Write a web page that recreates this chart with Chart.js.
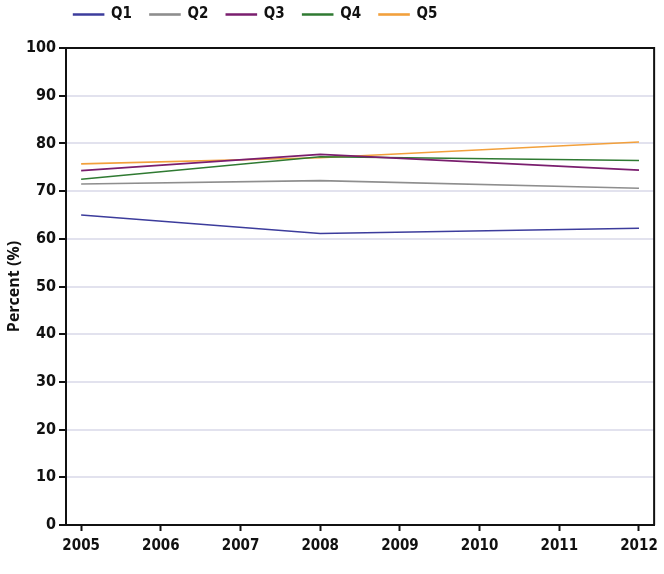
<!DOCTYPE html>
<html>
<head>
<meta charset="utf-8">
<script src="https://cdn.jsdelivr.net/npm/chart.js@4/dist/chart.umd.min.js"></script>
<style>
  html, body { margin: 0; padding: 0; background: #fff; }
  #wrap { width: 664px; height: 574px; }
</style>
</head>
<body>
<div id="wrap"><canvas id="myChart" width="664" height="574"></canvas></div>
<script>
// years where each series has a value, plus the axis tick years
const years = [2005, 2008, 2012];
const tickYears = [2005, 2006, 2007, 2008, 2009, 2010, 2011, 2012];

const q1 = [65.0, 61.1, 62.2];
const q2 = [71.5, 72.2, 70.6];
const q3 = [74.3, 77.7, 74.4];
const q4 = [72.5, 77.2, 76.4];
const q5 = [75.7, 77.0, 80.3];

const seriesNames = ["Q1", "Q2", "Q3", "Q4", "Q5"];
const seriesValues = [q1, q2, q3, q4, q5];
const seriesColors = ["#3c3c9c", "#8e8e8e", "#7a1e6e", "#2f7a32", "#f2a03c"];

const FONT = "'DejaVu Sans Condensed', 'DejaVu Sans', sans-serif";

const datasets = seriesNames.map((name, i) => ({
  label: name,
  data: years.map((yr, j) => ({ x: yr, y: seriesValues[i][j] })),
  borderColor: seriesColors[i],
  backgroundColor: seriesColors[i],
  borderWidth: 1.6,
  pointRadius: 0,
  tension: 0,
}));

// black frame on top and right side of the plot
const framePlugin = {
  id: "frame",
  afterDraw(chart) {
    const { ctx, chartArea } = chart;
    ctx.save();
    ctx.strokeStyle = "#111";
    ctx.lineWidth = 2;
    ctx.beginPath();
    ctx.moveTo(chartArea.left, chartArea.top);
    ctx.lineTo(chartArea.right, chartArea.top);
    ctx.lineTo(chartArea.right, chartArea.bottom);
    ctx.stroke();
    ctx.restore();
  },
};

// the legend sits left of centre and close to the top edge
const legendShift = {
  id: "legendShift",
  afterLayout(chart) {
    const lg = chart.legend;
    if (!lg) return;
    lg.left -= 72;
    lg.right -= 72;
    lg.top -= 16;
    lg.bottom -= 16;
  },
};

const ctx = document.getElementById("myChart").getContext("2d");
const myChart = new Chart(ctx, {
  type: "line",
  data: { datasets: datasets },
  plugins: [framePlugin, legendShift],
  options: {
    responsive: false,
    animation: false,
    layout: { padding: { left: 0, right: 9, top: 5, bottom: 0 } },
    plugins: {
      tooltip: { enabled: false },
      legend: {
        position: "top",
        labels: {
          boxWidth: 30,
          boxHeight: 1,
          padding: 18,
          color: "#111",
          font: { family: FONT, size: 15, weight: "bold" },
        },
      },
    },
    scales: {
      x: {
        type: "linear",
        min: 2004.81,
        max: 2012.19,
        afterBuildTicks(scale) {
          scale.ticks = tickYears.map(v => ({ value: v }));
        },
        afterFit(scale) { scale.height = 49; },
        grid: { drawOnChartArea: false, tickLength: 6, tickColor: "#111", tickWidth: 2 },
        border: { color: "#111", width: 2 },
        ticks: {
          color: "#111",
          padding: 6,
          maxRotation: 0,
          callback: v => String(v),
          font: { family: FONT, size: 15, weight: "bold" },
        },
      },
      y: {
        min: 0,
        max: 100,
        afterFit(scale) { scale.width = 66; },
        grid: { color: "#e2e2ee", lineWidth: 2, tickColor: "#111", tickLength: 7, tickWidth: 2 },
        border: { color: "#111", width: 2 },
        ticks: {
          stepSize: 10,
          color: "#111",
          padding: 3,
          font: { family: FONT, size: 16, weight: "bold" },
        },
        title: {
          display: true,
          text: "Percent (%)",
          color: "#111",
          padding: { top: 5, bottom: 0 },
          font: { family: "'Open Sans', 'DejaVu Sans', sans-serif", size: 16, weight: "bold" },
        },
      },
    },
  },
});
</script>
</body>
</html>
